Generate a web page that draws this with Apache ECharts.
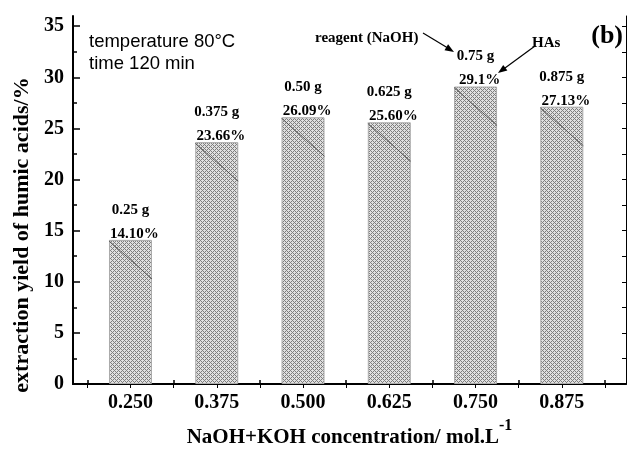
<!DOCTYPE html>
<html>
<head>
<meta charset="utf-8">
<script src="https://cdn.jsdelivr.net/npm/echarts@6/dist/echarts.min.js"></script>
<style>html,body{margin:0;padding:0;background:#fff;}#c{width:627px;height:453px;}</style>
</head>
<body>
<div id="c"></div>
<script>
// ---- data ----
var concentrations = [0.250, 0.375, 0.500, 0.625, 0.750, 0.875];
var yields = [14.10, 23.66, 26.09, 25.60, 29.1, 27.13];
var yieldLabels = ['14.10%', '23.66%', '26.09%', '25.60%', '29.1%', '27.13%'];
var massLabels = ['0.25 g', '0.375 g', '0.50 g', '0.625 g', '0.75 g', '0.875 g'];
var xTickValues = [0.250, 0.375, 0.500, 0.625, 0.750, 0.875];
var xTickLabels = ['0.250', '0.375', '0.500', '0.625', '0.750', '0.875'];
var xMinorTicks = [0.1875, 0.3125, 0.4375, 0.5625, 0.6875, 0.8125, 0.9375];
var yTickValues = [0, 5, 10, 15, 20, 25, 30, 35];
var yTickLabels = ['0', '5', '10', '15', '20', '25', '30', '35'];
var yMinorTicks = [2.5, 7.5, 12.5, 17.5, 22.5, 27.5, 32.5];

var XMIN = 0.1667, XMAX = 0.968, YMIN = 0, YMAX = 36;
var SERIF = '"Liberation Serif", "Times New Roman", serif';

// crosshatch pattern tile
var tile = document.createElement('canvas');
tile.width = 4; tile.height = 4;
var tc = tile.getContext('2d');
tc.fillStyle = '#e0e0e0'; tc.fillRect(0, 0, 4, 4);
tc.fillStyle = '#7e7e7e';
for (var i = 0; i < 4; i++) for (var j = 0; j < 4; j++) {
  if ((i + j) % 4 === 0 || ((i - j + 4) % 4) === 0) tc.fillRect(i, j, 1, 1);
}

var barData = concentrations.map(function (c, i) { return [c, yields[i]]; });

var chart = echarts.init(document.getElementById('c'), null, {renderer: 'canvas'});

function mapLabel(vals, labels) {
  return function (v) {
    for (var k = 0; k < vals.length; k++) if (Math.abs(vals[k] - v) < 1e-6) return labels[k];
    return '';
  };
}

var option = {
  animation: false,
  backgroundColor: '#fff',
  grid: {left: 73, top: 16, right: 1, bottom: 69, containLabel: false, outerBoundsMode: 'none'},
  xAxis: [
    {
      type: 'value', position: 'bottom', min: XMIN, max: XMAX,
      axisLine: {show: true, lineStyle: {color: '#000', width: 2}},
      axisTick: {show: true, inside: true, length: 6, customValues: xTickValues, lineStyle: {color: '#000', width: 1.5}},
      axisLabel: {show: true, customValues: xTickValues, formatter: mapLabel(xTickValues, xTickLabels),
        fontFamily: SERIF, fontWeight: 'bold', fontSize: 20, color: '#000', margin: 9},
      splitLine: {show: false},
      name: '{a|NaOH+KOH concentration/ mol.L}{s|-1}',
      nameLocation: 'middle', nameGap: 34,
      nameTextStyle: {
        rich: {
          a: {fontFamily: SERIF, fontWeight: 'bold', fontSize: 21, color: '#000', verticalAlign: 'bottom', lineHeight: 30},
          s: {fontFamily: SERIF, fontWeight: 'bold', fontSize: 16, color: '#000', verticalAlign: 'top', lineHeight: 30}
        }
      }
    },
    {
      type: 'value', position: 'bottom', min: XMIN, max: XMAX,
      axisLine: {show: false},
      axisTick: {show: true, inside: true, length: 4, customValues: xMinorTicks, lineStyle: {color: '#000', width: 1.5}},
      axisLabel: {show: false}, splitLine: {show: false}
    },
    {
      type: 'value', position: 'top', min: XMIN, max: XMAX,
      axisLine: {show: true, lineStyle: {color: '#000', width: 1}},
      axisTick: {show: true, inside: true, length: 4, customValues: xTickValues.concat(xMinorTicks), lineStyle: {color: '#000', width: 1}},
      axisLabel: {show: false}, splitLine: {show: false}
    }
  ],
  yAxis: [
    {
      type: 'value', position: 'left', min: YMIN, max: YMAX,
      axisLine: {show: true, lineStyle: {color: '#000', width: 2}},
      axisTick: {show: true, inside: true, length: 7, customValues: yTickValues, lineStyle: {color: '#000', width: 1.5}},
      axisLabel: {show: true, customValues: yTickValues, formatter: mapLabel(yTickValues, yTickLabels),
        fontFamily: SERIF, fontWeight: 'bold', fontSize: 20, color: '#000', margin: 9},
      splitLine: {show: false},
      name: 'extraction yield of humic acids/%',
      nameLocation: 'middle', nameGap: 37,
      nameTextStyle: {fontFamily: SERIF, fontWeight: 'bold', fontSize: 22, color: '#000', padding: [0, 70, 0, 0]}
    },
    {
      type: 'value', position: 'left', min: YMIN, max: YMAX,
      axisLine: {show: false},
      axisTick: {show: true, inside: true, length: 4, customValues: yMinorTicks, lineStyle: {color: '#000', width: 1.5}},
      axisLabel: {show: false}, splitLine: {show: false}
    },
    {
      type: 'value', position: 'right', min: YMIN, max: YMAX,
      axisLine: {show: true, lineStyle: {color: '#000', width: 1}},
      axisTick: {show: true, inside: true, length: 4, customValues: yTickValues.concat(yMinorTicks), lineStyle: {color: '#000', width: 1}},
      axisLabel: {show: false}, splitLine: {show: false}
    }
  ],
  series: [
    {
      type: 'bar', xAxisIndex: 0, yAxisIndex: 0,
      data: barData, barWidth: 43,
      itemStyle: {color: {image: tile, repeat: 'repeat'}, borderColor: '#aaaaaa', borderWidth: 1},
      label: {
        show: true, position: 'top', distance: -6,
        formatter: function (p) { return '{m|' + massLabels[p.dataIndex] + '}\n{p|' + yieldLabels[p.dataIndex] + '}'; },
        rich: {
          m: {fontFamily: SERIF, fontWeight: 'bold', fontSize: 15, color: '#000', lineHeight: 24},
          p: {fontFamily: SERIF, fontWeight: 'bold', fontSize: 15, color: '#000', lineHeight: 24, padding: [0, 0, 0, 8]}
        }
      },
      z: 2
    },
    {
      type: 'custom', xAxisIndex: 0, yAxisIndex: 0,
      data: barData,
      renderItem: function (params, api) {
        var p = api.coord([api.value(0), api.value(1)]);
        var x0 = p[0] - 21.5, y0 = p[1] + 1;
        return {
          type: 'line',
          shape: {x1: x0, y1: y0, x2: x0 + 43, y2: y0 + 38},
          style: {stroke: '#444', lineWidth: 0.8}
        };
      },
      z: 3, silent: true
    }
  ],
  graphic: [
    {type: 'text', left: 89, top: 32, style: {text: 'temperature 80°C', font: '18.5px "Liberation Sans", Arial, sans-serif', fill: '#000'}},
    {type: 'text', left: 89, top: 54, style: {text: 'time 120 min', font: '18.5px "Liberation Sans", Arial, sans-serif', fill: '#000'}},
    {type: 'text', right: 4, top: 23, style: {text: '(b)', font: 'bold 26px ' + SERIF, fill: '#000'}},
    {type: 'text', left: 315, top: 31, style: {text: 'reagent (NaOH)', font: 'bold 15px ' + SERIF, fill: '#000'}},
    {type: 'text', left: 532, top: 36, style: {text: 'HAs', font: 'bold 15px ' + SERIF, fill: '#000'}},
    {type: 'line', shape: {x1: 423, y1: 33, x2: 447, y2: 47.5}, style: {stroke: '#000', lineWidth: 1.2}},
    {type: 'polygon', shape: {points: [[454, 52], [444.5, 50.3], [448.1, 44.3]]}, style: {fill: '#000'}},
    {type: 'line', shape: {x1: 535, y1: 46, x2: 505, y2: 68}, style: {stroke: '#000', lineWidth: 1.2}},
    {type: 'polygon', shape: {points: [[498, 73], [503.2, 64.9], [507.4, 70.5]]}, style: {fill: '#000'}}
  ]
};
chart.setOption(option);
</script>
</body>
</html>
